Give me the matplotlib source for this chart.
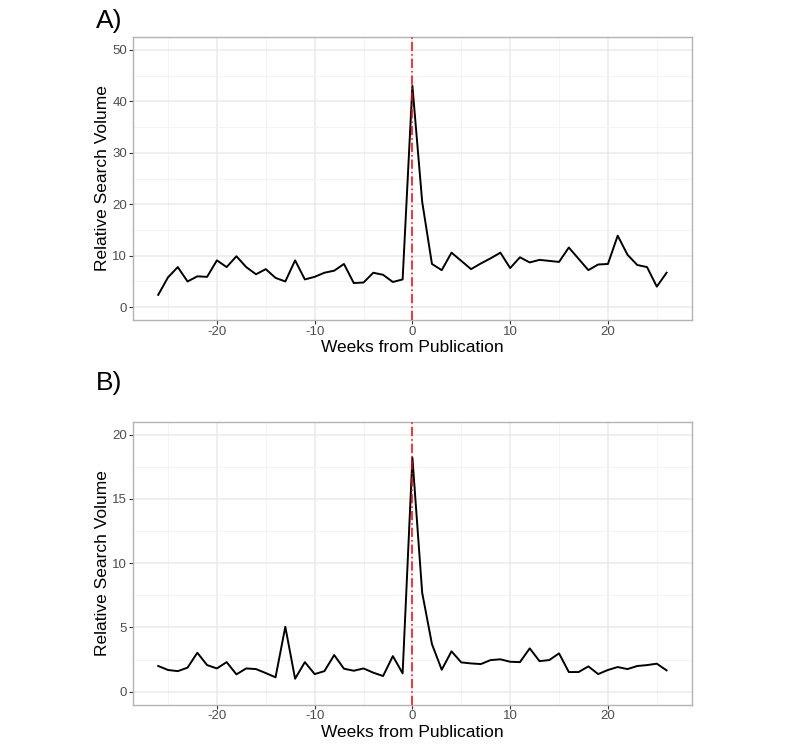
import numpy as np
import matplotlib.pyplot as plt
from matplotlib.ticker import MultipleLocator

plt.rcParams['font.family'] = ['Liberation Sans', 'DejaVu Sans']
plt.rcParams['axes.unicode_minus'] = False

# 数据：发表前后各26周
weeks = list(range(-26, 27))

volume_a = [2.4, 5.8, 7.8, 5.0, 6.0, 5.9, 9.1, 7.8, 9.9, 7.8, 6.4, 7.4, 5.7, 5.0,
            9.1, 5.4, 5.9, 6.7, 7.1, 8.4, 4.7, 4.8, 6.7, 6.3, 4.9, 5.4,
            43.0,
            20.5, 8.4, 7.2, 10.6, 9.0, 7.4, 8.5, 9.5, 10.6, 7.6, 9.7, 8.7, 9.2,
            9.0, 8.8, 11.6, 9.4, 7.2, 8.3, 8.4, 13.9, 10.2, 8.2, 7.8, 4.0, 6.7]

volume_b = [2.0, 1.69, 1.6, 1.87, 3.03, 2.07, 1.81, 2.3, 1.35, 1.81, 1.76, 1.45, 1.12,
            5.05, 1.01, 2.3, 1.37, 1.6, 2.85, 1.79, 1.63, 1.81, 1.48, 1.22, 2.77, 1.43,
            18.2,
            7.7, 3.7, 1.71, 3.14, 2.28, 2.2, 2.15, 2.46, 2.52, 2.33, 2.3, 3.37, 2.38,
            2.46, 2.98, 1.53, 1.53, 1.97, 1.37, 1.69, 1.92, 1.76, 2.0, 2.07, 2.18, 1.66]

panels = [
    ('A)', volume_a, (-2.5, 52.5), 10, [0.166, 0.5715, 0.699, 0.379], 0.988),
    ('B)', volume_b, (-1, 21), 5, [0.166, 0.0568, 0.699, 0.3787], 0.504),
]

fig = plt.figure(figsize=(8, 7.47), dpi=100)

for label, vals, ylim, ystep, pos, label_y in panels:
    ax = fig.add_axes(pos)
    ax.set_xlim(-28.6, 28.6)
    ax.set_ylim(*ylim)

    # 网格（仿 ggplot theme_bw）
    ax.xaxis.set_major_locator(MultipleLocator(10))
    ax.xaxis.set_minor_locator(MultipleLocator(5))
    ax.yaxis.set_major_locator(MultipleLocator(ystep))
    ax.yaxis.set_minor_locator(MultipleLocator(ystep / 2))
    ax.grid(which='major', color='#ebebeb', linewidth=1.1)
    ax.grid(which='minor', color='#f2f2f2', linewidth=0.6)
    ax.set_axisbelow(True)
    ax.tick_params(which='minor', length=0)
    ax.tick_params(which='major', length=3, width=0.8, color='#333333',
                   labelsize=9.5, labelcolor='#4d4d4d', pad=1)
    for s in ax.spines.values():
        s.set_color('#b3b3b3')
        s.set_linewidth(1.0)

    ax.plot(weeks, vals, color='black', linewidth=1.4, zorder=3)
    ax.axvline(0, color='red', linestyle=(0, (6, 2, 1, 2)), linewidth=1.1, zorder=4)

    ax.set_xlabel('Weeks from Publication', fontsize=12.5, labelpad=2)
    ax.set_ylabel('Relative Search Volume', fontsize=12.5, labelpad=2)

    fig.text(0.120, label_y, label, fontsize=19, va='top', ha='left')

plt.savefig('out.png', dpi=100)
